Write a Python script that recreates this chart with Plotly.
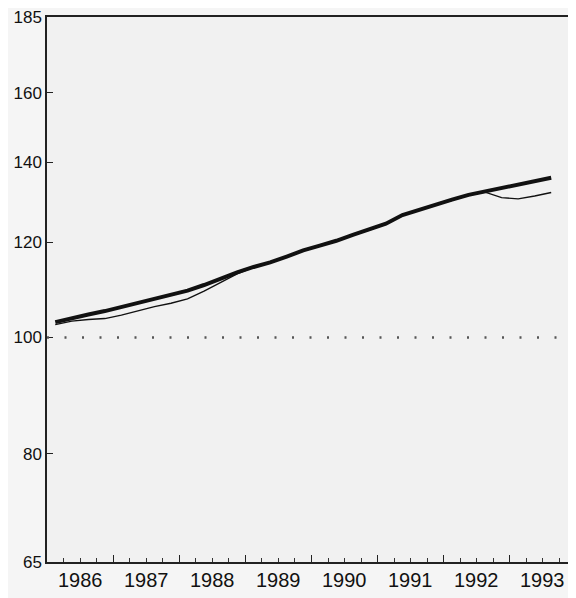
import plotly.graph_objects as go
import math

# Quarterly observations (mid-quarter positions)
years = [1986, 1986, 1986, 1986, 1987, 1987, 1987, 1987, 1988, 1988, 1988, 1988,
         1989, 1989, 1989, 1989, 1990, 1990, 1990, 1990, 1991, 1991, 1991, 1991,
         1992, 1992, 1992, 1992, 1993, 1993, 1993]
quarters = [1, 2, 3, 4] * 7 + [1, 2, 3]

thick_series = [103.0, 103.8, 104.5, 105.2, 106.0, 106.9, 107.8, 108.6,
                109.4, 110.6, 112.0, 113.3, 114.5, 115.5, 116.8, 118.2,
                119.3, 120.4, 121.8, 123.0, 124.4, 126.5, 127.8, 129.0,
                130.3, 131.5, 132.4, 133.2, 134.0, 135.0, 135.9]
thin_series = [102.5, 103.2, 103.5, 103.7, 104.4, 105.3, 106.1, 106.8,
               107.7, 109.3, 111.2, 113.0, 114.4, 115.4, 116.7, 118.1,
               119.2, 120.3, 121.7, 122.9, 124.3, 126.4, 127.7, 128.9,
               130.2, 131.4, 132.2, 130.8, 130.5, 131.2, 132.1]

year_labels = ["1986", "1987", "1988", "1989", "1990", "1991", "1992", "1993"]
y_ticks = [65, 80, 100, 120, 140, 160, 185]
ref_level = 100

x = [y + (q - 0.5) / 4 for y, q in zip(years, quarters)]
label_pos = [int(l) + 0.5 for l in year_labels]
year_bounds = [int(l) for l in year_labels] + [int(year_labels[-1]) + 1]

font_family = "Liberation Sans, Arial, sans-serif"

fig = go.Figure()
fig.add_trace(go.Scatter(x=x, y=thin_series, mode="lines",
                         line=dict(color="#111111", width=1.4), showlegend=False))
fig.add_trace(go.Scatter(x=x, y=thick_series, mode="lines",
                         line=dict(color="#111111", width=4), showlegend=False))

fig.add_shape(type="line", xref="paper", x0=0, x1=1, yref="y", y0=ref_level, y1=ref_level,
              line=dict(color="#555555", width=2.5, dash="2px,15.5px"))

for lp, lab in zip(label_pos, year_labels):
    fig.add_annotation(x=lp, xref="x", y=0, yref="paper", text=lab, showarrow=False,
                       yanchor="top", yshift=-5,
                       font=dict(size=20, family=font_family, color="#111111"))

xr = [year_bounds[0], year_bounds[-1]]
fig.update_layout(
    width=568, height=590,
    margin=dict(l=39, r=0, t=9, b=36),
    paper_bgcolor="#f5f5f5",
    plot_bgcolor="#f1f1f1",
    font=dict(family=font_family, color="#111111"),
    xaxis=dict(range=xr, tickvals=year_bounds, showticklabels=False,
               ticks="inside", ticklen=7, tickwidth=1.1, tickcolor="#222222",
               minor=dict(tick0=year_bounds[0], dtick=0.25, ticks="inside", ticklen=4,
                          tickwidth=1.1, tickcolor="#333333", showgrid=False),
               showgrid=False, zeroline=False, showline=True, linecolor="#222222",
               linewidth=1.5, mirror=True, automargin=False),
    yaxis=dict(type="log", range=[math.log10(64.98), math.log10(185.03)],
               tickvals=y_ticks, ticktext=[str(v) for v in y_ticks],
               ticks="inside", ticklen=6, tickwidth=1.2, tickcolor="#222222",
               showgrid=False, zeroline=False, showline=True, linecolor="#222222",
               linewidth=1.5, automargin=False,
               tickfont=dict(size=17, family=font_family, color="#111111")),
)

fig.write_html("out.html")
